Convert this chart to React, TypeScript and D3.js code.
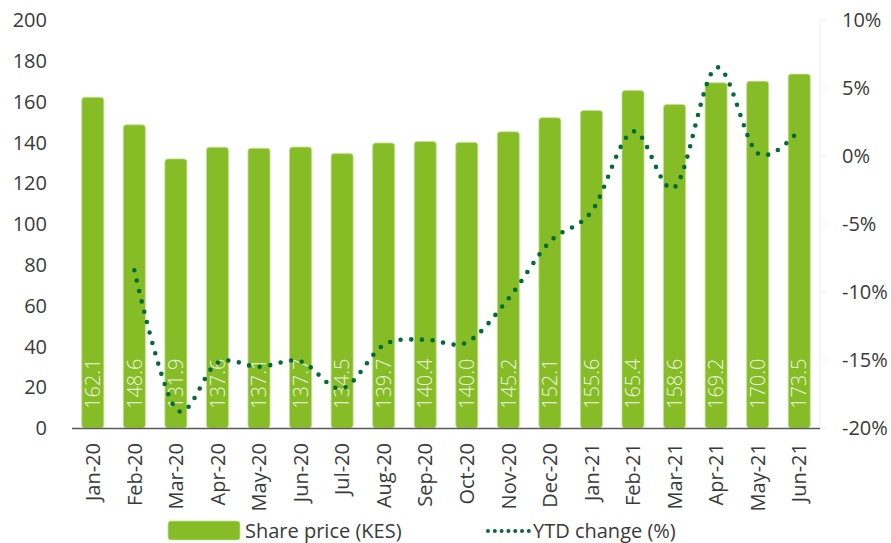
import React from "react";
import * as d3 from "d3";

const months = ["Jan-20","Feb-20","Mar-20","Apr-20","May-20","Jun-20","Jul-20","Aug-20","Sep-20","Oct-20","Nov-20","Dec-20","Jan-21","Feb-21","Mar-21","Apr-21","May-21","Jun-21"];
const sharePrice = [162.1,148.6,131.9,137.6,137.1,137.7,134.5,139.7,140.4,140.0,145.2,152.1,155.6,165.4,158.6,169.2,170.0,173.5];
const ytdChange: (number | null)[] = [null,-8.4,-18.6,-15.2,-15.5,-15.1,-17.1,-13.9,-13.5,-13.7,-10.5,-6.3,-4.1,1.8,-2.3,6.5,0.2,1.9];
const leftTicks = [0,20,40,60,80,100,120,140,160,180,200];
const rightTicks = [-20,-15,-10,-5,0,5,10];
const legendLabels = ["Share price (KES)", "YTD change (%)"];

const W = 891, H = 543;
const FONT = "'Open Sans', 'DejaVu Sans', sans-serif";
const BAR = "#86bc25";
const LINE = "#046a38";
const TXT = "#3a3a3a";

export default function App() {
  const x = d3.scaleBand<string>().domain(months).range([72, 820]).paddingInner(0.47).paddingOuter(0.235);
  const yL = d3.scaleLinear().domain([0, 200]).range([428, 20]);
  const yR = d3.scaleLinear().domain([-20, 10]).range([428, 20]);
  const bw = x.bandwidth();

  const lineData = months.map((m, i) => ({ m, v: ytdChange[i] })).filter(d => d.v !== null) as { m: string; v: number }[];
  const line = d3.line<{ m: string; v: number }>()
    .x(d => (x(d.m) as number) + bw / 2)
    .y(d => yR(d.v))
    .curve(d3.curveCardinal.tension(0));

  return (
    <svg width={W} height={H} style={{ position: "absolute", left: 0, top: 0, background: "#fff" }} fontFamily={FONT}>
      <line x1={820} x2={820} y1={yR(10)} y2={yR(-20)} stroke="#efefef" strokeWidth={1} />
      {rightTicks.map(t => (
        <g key={"r" + t}>
          <line x1={820} x2={827} y1={yR(t)} y2={yR(t)} stroke="#efefef" strokeWidth={1} />
          <text x={842} y={yR(t)} dy="0.36em" fontSize={20} fill={TXT}>{t + "%"}</text>
        </g>
      ))}
      {leftTicks.map(t => (
        <text key={"l" + t} x={47} y={yL(t)} dy="0.36em" textAnchor="end" fontSize={20} fill={TXT}>{t}</text>
      ))}
      {months.map((m, i) => (
        <rect key={"b" + m} x={x(m)} y={yL(sharePrice[i])} width={bw} height={yL(0) - yL(sharePrice[i])}
          rx={3} ry={3} fill={BAR} stroke="#c3de93" strokeWidth={0.8} />
      ))}
      {months.map((m, i) => {
        const cx = (x(m) as number) + bw / 2;
        return (
          <text key={"bl" + m} transform={`translate(${cx},409) rotate(-90)`} dy="0.36em" fontSize={20}
            fontWeight={300} fill="#eef5e3">{sharePrice[i].toFixed(1)}</text>
        );
      })}
      <line x1={72} x2={820} y1={428.5} y2={428.5} stroke="#595959" strokeWidth={1.5} />
      {months.map(m => {
        const cx = (x(m) as number) + bw / 2;
        return (
          <text key={"x" + m} transform={`translate(${cx},443) rotate(-90)`} dy="0.36em" textAnchor="end"
            fontSize={20} fill={TXT}>{m}</text>
        );
      })}
      <path d={line(lineData) || ""} fill="none" stroke={LINE} strokeWidth={4.6} strokeLinecap="round"
        strokeDasharray="0 10.7" />
      <rect x={168} y={521} width={72} height={19} rx={3} fill={BAR} stroke="#c3de93" strokeWidth={0.8} />
      <text x={245} y={531} dy="0.36em" fontSize={20} fill={TXT}>{legendLabels[0]}</text>
      <line x1={488} x2={529} y1={531} y2={531} stroke={LINE} strokeWidth={4} strokeLinecap="round" strokeDasharray="0 6.8" />
      <text x={533} y={531} dy="0.36em" fontSize={20} fill={TXT}>{legendLabels[1]}</text>
    </svg>
  );
}
